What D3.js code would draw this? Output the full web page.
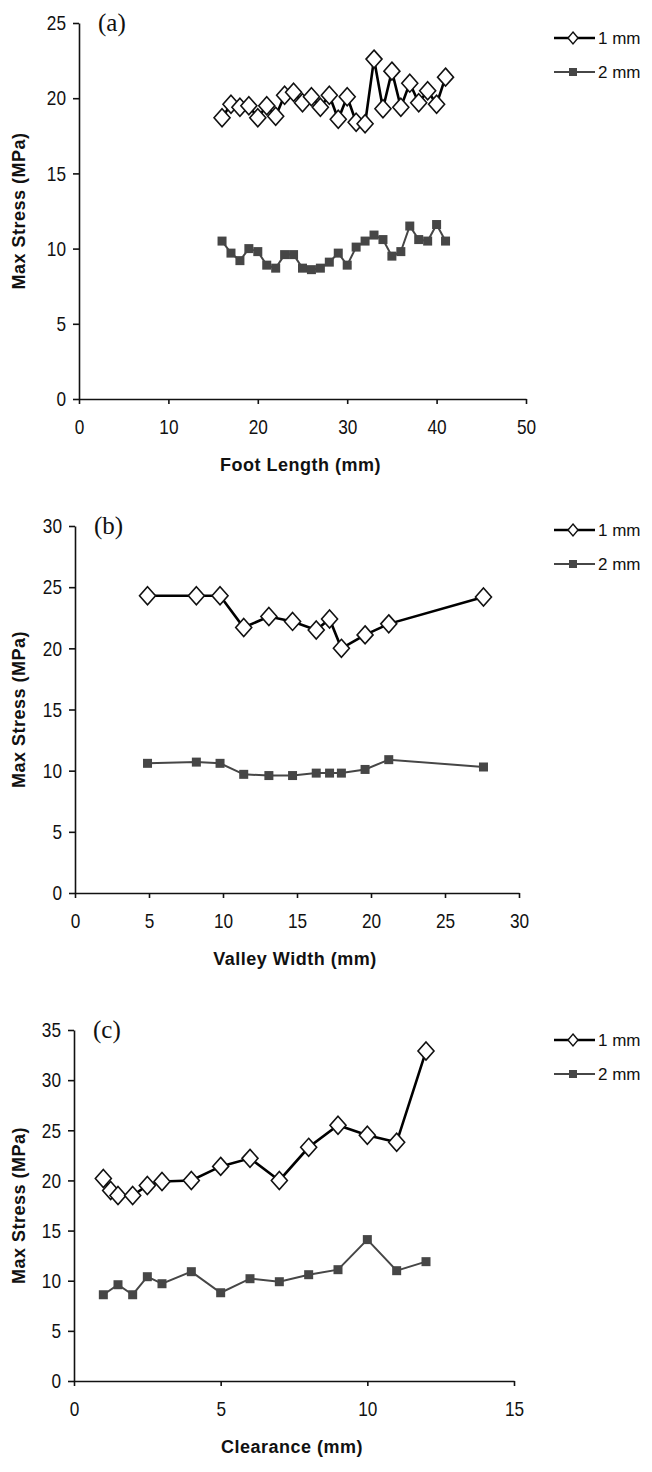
<!DOCTYPE html>
<html>
<head>
<meta charset="utf-8">
<script src="https://cdn.jsdelivr.net/npm/d3@7"></script>
<style>
  body { margin: 0; background: #fff; }
  svg { display: block; }
  .tick text { font-family: "Liberation Sans Narrow", "Arial Narrow", "Liberation Sans", sans-serif; font-size: 21px; fill: #111; }
  .title { font-family: "Liberation Sans", Arial, sans-serif; font-size: 18px; font-weight: bold; fill: #111; letter-spacing: 0.5px; }
  .legend { font-family: "Liberation Sans", Arial, sans-serif; font-size: 17px; fill: #111; }
  .tag { font-family: "Liberation Serif", "Times New Roman", serif; font-size: 25px; fill: #111; }
</style>
</head>
<body>
<div id="chart"></div>
<script>
// (a) foot length
var footLength = [16,17,18,19,20,21,22,23,24,25,26,27,28,29,30,31,32,33,34,35,36,37,38,39,40,41];
var footStress1 = [18.7,19.6,19.4,19.5,18.7,19.5,18.8,20.2,20.4,19.7,20.1,19.4,20.2,18.6,20.1,18.4,18.3,22.6,19.3,21.8,19.4,21.0,19.7,20.5,19.6,21.4];
var footStress2 = [10.5,9.7,9.2,10.0,9.8,8.9,8.7,9.6,9.6,8.7,8.6,8.7,9.1,9.7,8.9,10.1,10.5,10.9,10.6,9.5,9.8,11.5,10.6,10.5,11.6,10.5];

// (b) valley width
var valleyWidth = [4.9,8.2,9.8,11.4,13.1,14.7,16.3,17.2,18.0,19.6,21.2,27.6];
var valleyStress1 = [24.3,24.3,24.3,21.7,22.6,22.2,21.5,22.4,20.0,21.1,22.0,24.2];
var valleyStress2 = [10.6,10.7,10.6,9.7,9.6,9.6,9.8,9.8,9.8,10.1,10.9,10.3];

// (c) clearance
var clearance1 = [1,1.25,1.5,2,2.5,3,4,5,6,7,8,9,10,11,12];
var clearStress1 = [20.2,19.0,18.5,18.5,19.5,19.9,20.0,21.4,22.2,20.0,23.3,25.5,24.5,23.8,32.9];
var clearance2 = [1,1.5,2,2.5,3,4,5,6,7,8,9,10,11,12];
var clearStress2 = [8.6,9.6,8.6,10.4,9.7,10.9,8.8,10.2,9.9,10.6,11.1,14.1,11.0,11.9];

var xTicksA = [0,10,20,30,40,50];
var xTicksB = [0,5,10,15,20,25,30];
var xTicksC = [0,5,10,15];
var seriesNames = ["1 mm", "2 mm"];

var W = 652, H = 1472;
var narrow = 0.82; // squeeze tick digits like the condensed font of the original
var svg = d3.select('#chart').append('svg')
	.attr('width', W)
	.attr('height', H);

var panels = [
	{ tag: '(a)', left: 79, right: 526, top: 23, bottom: 399, xMax: 50, yMax: 25, xTicks: xTicksA,
	  xLabel: 'Foot Length (mm)', yLabel: 'Max Stress (MPa)', legendY: 38,
	  s1: [footLength, footStress1], s2: [footLength, footStress2] },
	{ tag: '(b)', left: 75, right: 519, top: 526, bottom: 893, xMax: 30, yMax: 30, xTicks: xTicksB,
	  xLabel: 'Valley Width (mm)', yLabel: 'Max Stress  (MPa)', legendY: 530,
	  s1: [valleyWidth, valleyStress1], s2: [valleyWidth, valleyStress2] },
	{ tag: '(c)', left: 74, right: 514, top: 1030, bottom: 1381, xMax: 15, yMax: 35, xTicks: xTicksC,
	  xLabel: 'Clearance (mm)', yLabel: 'Max Stress (MPa)', legendY: 1040,
	  s1: [clearance1, clearStress1], s2: [clearance2, clearStress2] }
];

function diamond(w, h) {
	return 'M0,' + (-h) + 'L' + w + ',0L0,' + h + 'L' + (-w) + ',0Z';
}

panels.forEach(function(p) {
	var x = d3.scaleLinear().domain([0, p.xMax]).range([p.left, p.right]);
	var y = d3.scaleLinear().domain([0, p.yMax]).range([p.bottom, p.top]);
	var g = svg.append('g');

	// axes
	var yAxis = g.append('g')
		.attr('transform', 'translate(' + p.left + ',0)')
		.call(d3.axisLeft(y).ticks(p.yMax / 5).tickSize(6).tickSizeOuter(0).tickPadding(7));
	var xAxis = g.append('g')
		.attr('transform', 'translate(0,' + p.bottom + ')')
		.call(d3.axisBottom(x).tickValues(p.xTicks).tickSize(5).tickSizeOuter(0).tickPadding(15));
	[yAxis, xAxis].forEach(function(a) {
		a.select('.domain').attr('stroke', '#111').attr('stroke-width', 1.6);
		a.selectAll('.tick line').attr('stroke', '#111').attr('stroke-width', 1.6);
	});
	yAxis.selectAll('.tick text')
		.attr('x', -13 / narrow)
		.attr('transform', 'scale(' + narrow + ',1)');
	xAxis.selectAll('.tick text')
		.attr('transform', 'scale(' + narrow + ',1)');

	g.append('text').attr('class', 'title')
		.attr('x', (p.left + p.right) / 2 - 2)
		.attr('y', p.bottom + 72)
		.attr('text-anchor', 'middle')
		.text(p.xLabel);
	g.append('text').attr('class', 'title')
		.attr('transform', 'translate(25,' + (p.top + p.bottom) / 2 + ') rotate(-90)')
		.attr('text-anchor', 'middle')
		.text(p.yLabel);
	g.append('text').attr('class', 'tag')
		.attr('x', p.left + 19)
		.attr('y', p.top + 8)
		.text(p.tag);

	var line = d3.line()
		.x(function(d) { return x(d[0]); })
		.y(function(d) { return y(d[1]); });

	var d2 = d3.zip(p.s2[0], p.s2[1]);
	var d1 = d3.zip(p.s1[0], p.s1[1]);

	// 2 mm series
	g.append('path').datum(d2)
		.attr('d', line)
		.attr('fill', 'none')
		.attr('stroke', '#464646')
		.attr('stroke-width', 2);
	g.selectAll('rect.sq').data(d2).enter().append('rect')
		.attr('class', 'sq')
		.attr('x', function(d) { return x(d[0]) - 4.5; })
		.attr('y', function(d) { return y(d[1]) - 4.5; })
		.attr('width', 9).attr('height', 9)
		.attr('fill', '#464646');

	// 1 mm series
	g.append('path').datum(d1)
		.attr('d', line)
		.attr('fill', 'none')
		.attr('stroke', '#000')
		.attr('stroke-width', 2.6);
	g.selectAll('path.dm').data(d1).enter().append('path')
		.attr('class', 'dm')
		.attr('d', diamond(8, 9))
		.attr('transform', function(d) { return 'translate(' + x(d[0]) + ',' + y(d[1]) + ')'; })
		.attr('fill', '#fff')
		.attr('stroke', '#111')
		.attr('stroke-width', 1.6);

	// legend
	var lg = g.append('g').attr('transform', 'translate(554,' + p.legendY + ')');
	seriesNames.forEach(function(name, i) {
		var row = lg.append('g').attr('transform', 'translate(0,' + (i * 34) + ')');
		row.append('line').attr('x1', 0).attr('x2', 41).attr('y1', 0).attr('y2', 0)
			.attr('stroke', i === 0 ? '#000' : '#464646').attr('stroke-width', i === 0 ? 2.6 : 2);
		if (i === 0) {
			row.append('path').attr('d', diamond(5, 6)).attr('transform', 'translate(19,0)')
				.attr('fill', '#fff').attr('stroke', '#111').attr('stroke-width', 1.4);
		} else {
			row.append('rect').attr('x', 15).attr('y', -4).attr('width', 8).attr('height', 8).attr('fill', '#464646');
		}
		row.append('text').attr('class', 'legend')
			.attr('x', 44).attr('y', 6)
			.text(name);
	});
});
</script>
</body>
</html>
